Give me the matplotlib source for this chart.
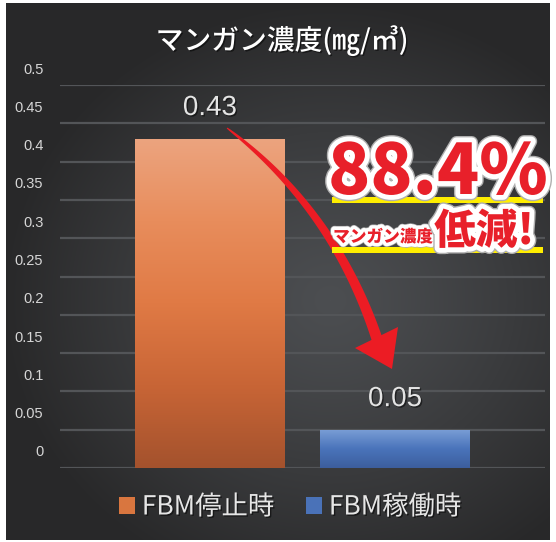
import numpy as np
import matplotlib
matplotlib.use("Agg")
import matplotlib.pyplot as plt
import matplotlib.patheffects as pe
from matplotlib.patches import Rectangle, Polygon
from matplotlib.transforms import ScaledTranslation
from matplotlib.colors import LinearSegmentedColormap

plt.rcParams['font.family'] = ['Noto Sans CJK JP', 'DejaVu Sans']

categories = ["FBM停止時", "FBM稼働時"]
values = [0.43, 0.05]
value_labels = ["0.43", "0.05"]
yticks = [0, 0.05, 0.1, 0.15, 0.2, 0.25, 0.3, 0.35, 0.4, 0.45, 0.5]
ytick_labels = ["0", "0.05", "0.1", "0.15", "0.2", "0.25", "0.3", "0.35", "0.4", "0.45", "0.5"]
title = "マンガン濃度(㎎/㎥)"
callout_big = "88.4%"
callout_small = "マンガン濃度"
callout_mid = "低減!"

W, H = 556, 542
fig = plt.figure(figsize=(W / 100, H / 100), dpi=100)
fig.patch.set_facecolor("white")

def fx(px):
    return px / W

def fy(py):
    return 1 - py / H

# background panel with radial gradient
bg = fig.add_axes([0, 0, 1, 1], zorder=0)
bg.set_xlim(0, W)
bg.set_ylim(H, 0)
bg.axis("off")
yy, xx = np.mgrid[0:H, 0:W]
r = np.sqrt(((xx - 330) / 330.0) ** 2 + ((yy - 300) / 300.0) ** 2)
inner = np.array([0x4c, 0x4e, 0x51]) / 255
outer = np.array([0x28, 0x28, 0x29]) / 255
t = np.clip(r, 0, 1)[..., None] ** 1.2
img = inner * (1 - t) + outer * t
im = bg.imshow(img, extent=(0, W, H, 0), aspect="auto", interpolation="bilinear")
clip = Rectangle((6, 3), 544, 537, transform=bg.transData, facecolor="none", edgecolor="none")
bg.add_patch(clip)
im.set_clip_path(clip)

# main axes
ax = fig.add_axes([fx(60), fy(468), fx(545) - fx(60), (468 - 85) / H], zorder=1)
ax.patch.set_alpha(0)
ax.set_ylim(0, 0.5)
ax.set_xlim(-0.81, 1.81)
ax.set_yticks(yticks)
ax.set_yticklabels(ytick_labels)
ax.yaxis.grid(True, color="#535558", linewidth=1.6)
ax.set_axisbelow(True)
for s in ax.spines.values():
    s.set_visible(False)
ax.tick_params(axis="y", length=0, pad=12, labelsize=10.5, labelcolor="#d6d6d6")
ax.tick_params(axis="x", length=0, labelbottom=False)
for lab in ax.get_yticklabels():
    lab.set_family(["Liberation Sans"])
    lab.set_transform(lab.get_transform() + ScaledTranslation(0, 0.17, fig.dpi_scale_trans))

x = np.arange(len(categories))
bar_colors = ["#d9763f", "#4a72b8"]
grads = [
    LinearSegmentedColormap.from_list("o", ["#a4522d", "#c86536", "#e07a45", "#e88d5c", "#eca47f"]),
    LinearSegmentedColormap.from_list("b", ["#3c5e9d", "#4a74bb", "#7b9fd6"]),
]
bars = ax.bar(x, values, width=0.81, color=bar_colors, label=categories, zorder=2)
for b, cmap in zip(bars, grads):
    gx0, gy0 = b.get_x(), b.get_y()
    gw, gh = b.get_width(), b.get_height()
    g = np.linspace(0, 1, 256).reshape(-1, 1)
    gi = ax.imshow(g, extent=(gx0, gx0 + gw, gy0, gy0 + gh), origin="lower",
                   cmap=cmap, aspect="auto", zorder=2.5)
    gi.set_clip_path(b)
ax.set_xlim(-0.81, 1.81)
ax.set_ylim(0, 0.5)

shadow = [pe.SimplePatchShadow(offset=(1, -1), shadow_rgbFace="black", alpha=0.5), pe.Normal()]
for xi, v, lab in zip(x, values, value_labels):
    ax.annotate(lab, (xi, v), xytext=(0, 22), textcoords="offset points", ha="center",
                va="center", fontsize=20, color="#e4e4e4", family=["Liberation Sans"],
                path_effects=shadow, zorder=5)

# title
fig.text(fx(282), fy(41), title, ha="center", va="center", fontsize=20, fontweight="medium",
         color="white", path_effects=shadow, zorder=5)

# legend
leg = ax.legend(handles=list(bars), labels=categories, loc="center",
                bbox_to_anchor=(fx(290), fy(507)), bbox_transform=fig.transFigure,
                ncol=2, frameon=False, fontsize=19, handlelength=0.62, handleheight=0.62,
                handletextpad=0.25, columnspacing=1.2, labelcolor="#e6e6e6")
for txt in leg.get_texts():
    txt.set_path_effects(shadow)

# overlay in pixel coordinates for the callout
ov = fig.add_axes([0, 0, 1, 1], zorder=10)
ov.set_xlim(0, W)
ov.set_ylim(H, 0)
ov.axis("off")
ov.patch.set_alpha(0)

# curved tapering arrow
P0 = np.array([227.0, 128.0])
P1 = np.array([334.0, 209.0])
P2 = np.array([377.0, 339.0])
ts = np.linspace(0, 1, 80)[:, None]
pts = (1 - ts) ** 2 * P0 + 2 * ts * (1 - ts) * P1 + ts ** 2 * P2
der = 2 * (1 - ts) * (P1 - P0) + 2 * ts * (P2 - P1)
nrm = np.column_stack([-der[:, 1], der[:, 0]])
nrm /= np.linalg.norm(nrm, axis=1)[:, None]
wid = (1.0 + 10.0 * ts[:, 0] ** 0.6)[:, None] / 2
poly = np.vstack([pts + nrm * wid, (pts - nrm * wid)[::-1]])
ov.add_patch(Polygon(poly, closed=True, facecolor="#ec1c24", edgecolor="none", zorder=1))
ov.add_patch(Polygon([[355, 348], [398, 327], [392, 369]], closed=True,
                     facecolor="#ec1c24", edgecolor="none", zorder=1))

# callout
ov.add_patch(Rectangle((332, 197), 211, 6, facecolor="#ffee00", edgecolor="none", zorder=2))
ov.add_patch(Rectangle((332, 247), 211, 6, facecolor="#ffee00", edgecolor="none", zorder=2))
outline = [pe.Stroke(linewidth=9, foreground="#b0b0b0"), pe.Stroke(linewidth=7, foreground="white"), pe.Normal()]
ov.text(438, 194, callout_big, ha="center", va="baseline", fontsize=50,
        fontweight="black", color="#e8202a", family=["Noto Sans CJK JP"],
        path_effects=outline, zorder=3)
outline2 = [pe.Stroke(linewidth=6, foreground="#b0b0b0"), pe.Stroke(linewidth=5, foreground="white"), pe.Normal()]
ov.text(383, 242, callout_small, ha="center", va="baseline", fontsize=12,
        fontweight="black", color="#e8202a", path_effects=outline2, zorder=3)
ov.text(484, 244, callout_mid, ha="center", va="baseline", fontsize=30,
        fontweight="black", color="#e8202a", path_effects=outline, zorder=3)

fig.savefig("out.png", dpi=100, facecolor="white")
